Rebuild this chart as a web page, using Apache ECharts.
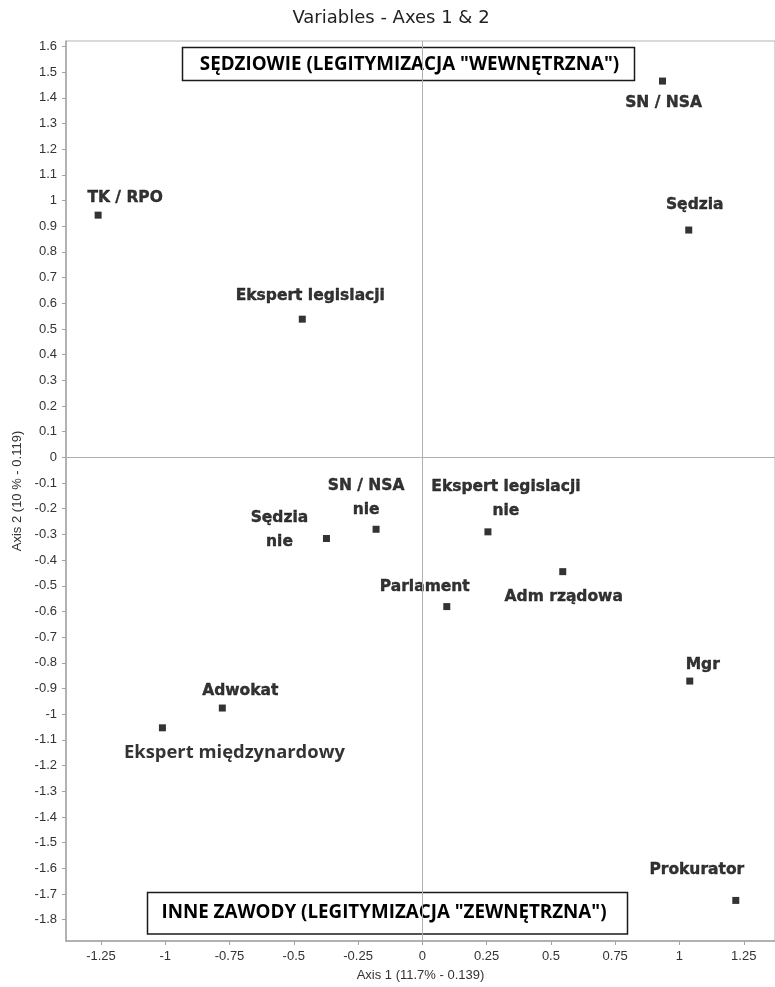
<!DOCTYPE html>
<html>
<head>
<meta charset="utf-8">
<script src="https://cdn.jsdelivr.net/npm/echarts@6/dist/echarts.min.js"></script>
<style>
  html, body { margin: 0; padding: 0; background: #fff; }
  #chart { width: 775px; height: 987px; }
</style>
</head>
<body>
<div id="chart"></div>
<script>
// Variable coordinates on the first two factorial axes
const names = [
  'TK / RPO', 'SN / NSA', 'Sędzia', 'Ekspert legislacji',
  'Sędzia\nnie', 'SN / NSA\nnie', 'Ekspert legislacji\nnie',
  'Adm rządowa', 'Parlament', 'Mgr', 'Adwokat',
  'Ekspert międzynardowy', 'Prokurator'
];
const axis1 = [-1.261, 0.934, 1.036, -0.467, -0.373, -0.180, 0.255, 0.546, 0.095, 1.040, -0.778, -1.011, 1.219];
const axis2 = [0.943, 1.465, 0.885, 0.538, -0.316, -0.280, -0.290, -0.445, -0.581, -0.871, -0.976, -1.053, -1.725];

// Tick values shown on each axis
const xTicks = [-1.25, -1, -0.75, -0.5, -0.25, 0, 0.25, 0.5, 0.75, 1, 1.25];
const yTicks = [1.6, 1.5, 1.4, 1.3, 1.2, 1.1, 1, 0.9, 0.8, 0.7, 0.6, 0.5, 0.4, 0.3, 0.2, 0.1, 0,
  -0.1, -0.2, -0.3, -0.4, -0.5, -0.6, -0.7, -0.8, -0.9, -1, -1.1, -1.2, -1.3, -1.4, -1.5,
  -1.6, -1.7, -1.8];

// Label placement around each marker (pixels, label centre relative to the marker)
const labelOffset = {
  'TK / RPO': [27, -17],
  'SN / NSA': [1, 22],
  'Sędzia': [6, -25],
  'Ekspert legislacji': [8, -23],
  'Sędzia\nnie': [-47, -9],
  'SN / NSA\nnie': [-10, -31],
  'Ekspert legislacji\nnie': [18, -33],
  'Adm rządowa': [1, 25],
  'Parlament': [-22, -20],
  'Mgr': [13, -16],
  'Adwokat': [18, -17],
  'Ekspert międzynardowy': [72, 25],
  'Prokurator': [-39, -30]
};

const points = names.map((n, i) => {
  const item = {
    name: n,
    value: [axis1[i], axis2[i]],
    label: { offset: labelOffset[n] }
  };
  if (n === 'Ekspert międzynardowy') {
    item.label.fontFamily = 'Open Sans';
    item.label.fontSize = 18.4;
    item.label.textBorderWidth = 0;
  }
  return item;
});

const axisGray = '#a4a4a4';
const tickFont = { fontFamily: 'Liberation Sans', fontSize: 13, color: '#333' };

const chart = echarts.init(document.getElementById('chart'), null, { renderer: 'canvas' });
chart.setOption({
  backgroundColor: '#fff',
  animation: false,
  title: {
    text: 'Variables - Axes 1 & 2',
    left: 391,
    textAlign: 'center',
    top: 9,
    padding: 0,
    textStyle: { fontFamily: 'DejaVu Sans', fontSize: 18, fontWeight: 'normal', color: '#222' }
  },
  grid: {
    left: 66, top: 41, right: -2, bottom: 45,
    show: true, borderColor: '#b4b4b4', borderWidth: 1, backgroundColor: '#fff'
  },
  xAxis: {
    type: 'value',
    min: -1.386, max: 1.3715,
    name: 'Axis 1 (11.7% - 0.139)',
    nameLocation: 'middle',
    nameGap: 28,
    nameTextStyle: { fontFamily: 'Liberation Sans', fontSize: 13, color: '#333' },
    axisLine: { show: true, onZero: false, lineStyle: { color: axisGray, width: 1.5 } },
    axisTick: { show: true, length: 4, customValues: xTicks, lineStyle: { color: axisGray } },
    axisLabel: Object.assign({ margin: 9, customValues: xTicks }, tickFont),
    splitLine: { show: false }
  },
  yAxis: {
    type: 'value',
    min: -1.883, max: 1.621,
    name: 'Axis 2 (10 % - 0.119)',
    nameLocation: 'middle',
    nameGap: 41,
    nameTextStyle: { fontFamily: 'Liberation Sans', fontSize: 13, color: '#333' },
    axisLine: { show: true, onZero: false, lineStyle: { color: axisGray, width: 1.5 } },
    axisTick: { show: true, length: 4, customValues: yTicks, lineStyle: { color: axisGray } },
    axisLabel: Object.assign({ margin: 9, customValues: yTicks }, tickFont),
    splitLine: { show: false }
  },
  graphic: [
    {
      type: 'group',
      children: [
        { type: 'rect', shape: { x: 182.5, y: 47.5, width: 452, height: 33 },
          style: { fill: '#fff', stroke: '#1a1a1a', lineWidth: 1.5 } },
        { type: 'text', x: 409.5, y: 64.5,
          style: { text: 'SĘDZIOWIE (LEGITYMIZACJA "WEWNĘTRZNA")', align: 'center', verticalAlign: 'middle',
                   font: 'bold 18.8px "Open Sans"', fill: '#000' } }
      ]
    },
    {
      type: 'group',
      children: [
        { type: 'rect', shape: { x: 147.5, y: 892.5, width: 480, height: 41.5 },
          style: { fill: '#fff', stroke: '#1a1a1a', lineWidth: 1.5 } },
        { type: 'text', x: 384, y: 913,
          style: { text: 'INNE ZAWODY (LEGITYMIZACJA "ZEWNĘTRZNA")', align: 'center', verticalAlign: 'middle',
                   font: 'bold 18.8px "Open Sans"', fill: '#000' } }
      ]
    }
  ],
  series: [{
    type: 'scatter',
    symbol: 'rect',
    symbolSize: 7,
    itemStyle: { color: '#000' },
    data: points,
    label: {
      show: true,
      position: 'inside',
      formatter: p => p.name,
      fontFamily: 'DejaVu Sans',
      fontWeight: 'bold',
      fontSize: 15.5,
      lineHeight: 24,
      align: 'center',
      verticalAlign: 'middle',
      color: '#000',
      textBorderColor: '#000',
      textBorderWidth: 0.4
    },
    markLine: {
      silent: true,
      symbol: 'none',
      label: { show: false },
      lineStyle: { color: '#b0b0b0', type: 'solid', width: 1 },
      data: [{ xAxis: 0 }, { yAxis: 0 }]
    },
    z: 3
  }]
});
</script>
</body>
</html>
